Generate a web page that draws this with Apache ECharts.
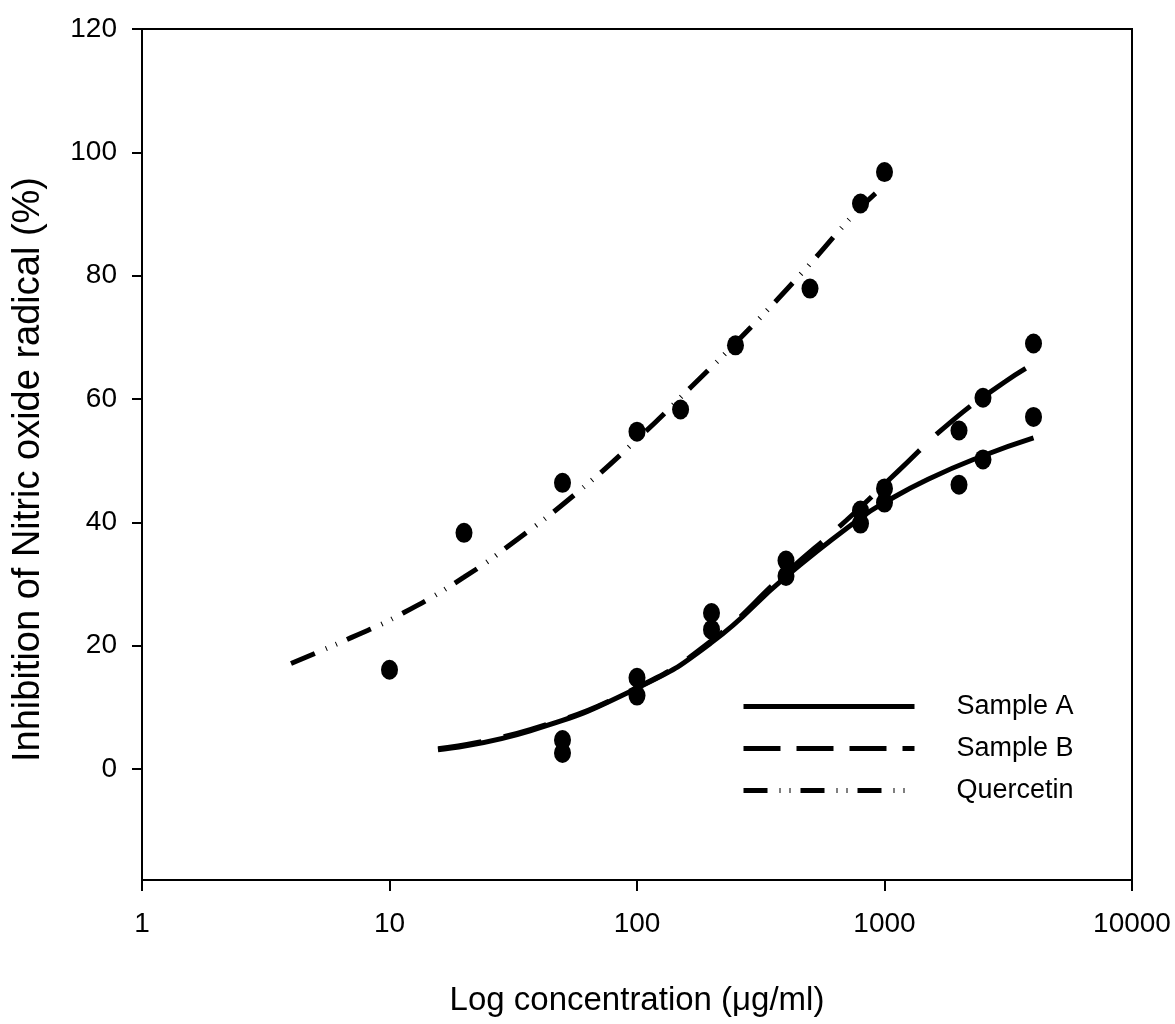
<!DOCTYPE html>
<html>
<head>
<meta charset="utf-8">
<script src="https://cdn.jsdelivr.net/npm/echarts@6/dist/echarts.min.js"></script>
<style>
html,body{margin:0;padding:0;background:#fff;}
#chart{width:1175px;height:1024px;}
</style>
</head>
<body>
<div id="chart"></div>
<script>
// Measured points
const sampleConc = [50, 100, 200, 400, 800, 1000, 2000, 2500, 4000];
const sampleAPoints = [2.6, 11.9, 22.6, 31.3, 39.8, 43.2, 46.1, 50.2, 57.1];
const sampleBPoints = [4.7, 14.8, 25.3, 33.8, 41.9, 45.5, 54.9, 60.2, 69.0];
const quercetinConc = [10, 20, 50, 100, 150, 250, 500, 800, 1000];
const quercetinPoints = [16.1, 38.3, 46.4, 54.7, 58.3, 68.7, 77.9, 91.7, 96.8];

// Fitted curves
const curveAConc = [15.7, 37, 100, 200, 400, 800, 1000, 1500, 2500, 4000];
const curveAVal  = [3.1, 6.2, 13.1, 20.5, 31.2, 40.7, 43.2, 47.0, 50.8, 53.7];
const curveBConc = [15.7, 37, 100, 200, 400, 700, 1135, 1857, 3069, 4000];
const curveBVal  = [3.3, 6.4, 13.2, 20.8, 31.8, 40.3, 48.3, 56.3, 62.8, 65.7];
const curveQConc = [4, 7, 11, 20, 33, 56, 95, 165, 280, 470, 780, 1000];
const curveQVal  = [17.1, 21.3, 25.0, 31.1, 37.3, 44.5, 52.6, 61.9, 71.1, 80.7, 90.6, 94.6];

const yTicks = [0, 20, 40, 60, 80, 100, 120];
const seriesNames = ['Sample A', 'Sample B', 'Quercetin'];
const xTitle = 'Log concentration (\u03bcg/ml)';
const yTitle = 'Inhibition of Nitric oxide radical (%)';

const zip = (xs, ys) => xs.map((x, i) => [x, ys[i]]);
const FONT = "'Liberation Sans', Arial, sans-serif";

const chart = echarts.init(document.getElementById('chart'));
const scatterBase = {
  type: 'scatter', symbol: 'circle', symbolSize: [17, 20],
  itemStyle: { color: '#000', opacity: 1 }, silent: true, z: 3
};
const hiddenSymbol = { color: 'transparent', borderColor: 'transparent', borderWidth: 0, opacity: 0 };
chart.setOption({
  animation: false,
  backgroundColor: '#fff',
  grid: { left: 142, right: 43, top: 29, bottom: 144, show: true, borderColor: '#000', borderWidth: 2, backgroundColor: 'transparent' },
  xAxis: {
    type: 'log', logBase: 10, min: 1, max: 10000,
    name: xTitle, nameLocation: 'middle', nameGap: 104,
    nameTextStyle: { fontFamily: FONT, fontSize: 33, color: '#000' },
    axisLine: { show: true, onZero: false, lineStyle: { color: '#000', width: 2 } },
    axisTick: { show: true, inside: false, length: 11, lineStyle: { color: '#000', width: 2 } },
    minorTick: { show: false },
    splitLine: { show: false },
    axisLabel: { fontFamily: FONT, fontSize: 28, color: '#000', margin: 30,
      formatter: v => String(Math.round(v)) }
  },
  yAxis: {
    type: 'value', min: -18, max: 120,
    name: yTitle, nameLocation: 'middle', nameGap: 94, nameRotate: 90,
    nameTextStyle: { fontFamily: FONT, fontSize: 38, color: '#000', padding: [0, 30, 0, 0] },
    axisLine: { show: true, onZero: false, lineStyle: { color: '#000', width: 2 } },
    axisTick: { show: true, inside: false, length: 10, customValues: yTicks, lineStyle: { color: '#000', width: 2 } },
    splitLine: { show: false },
    axisLabel: { fontFamily: FONT, fontSize: 28, color: '#000', margin: 25, customValues: yTicks }
  },
  legend: {
    orient: 'vertical', left: 741, top: 693, padding: 0,
    itemWidth: 171, itemHeight: 27, itemGap: 15,
    textStyle: { fontFamily: FONT, fontSize: 27, color: '#000', padding: [0, 0, 0, 37] },
    lineStyle: { width: 5 },
    itemStyle: hiddenSymbol,
    data: [
      { name: seriesNames[0], itemStyle: hiddenSymbol, lineStyle: { width: 5, type: 'solid' } },
      { name: seriesNames[1], itemStyle: hiddenSymbol, lineStyle: { width: 5, type: [37, 16] } },
      { name: seriesNames[2], itemStyle: hiddenSymbol, lineStyle: { width: 5, type: [24, 12, 1, 9, 1, 10] } }
    ],
    selectedMode: false
  },
  series: [
    Object.assign({ name: 'A points', data: zip(sampleConc, sampleAPoints) }, scatterBase),
    Object.assign({ name: 'B points', data: zip(sampleConc, sampleBPoints) }, scatterBase),
    Object.assign({ name: 'Q points', data: zip(quercetinConc, quercetinPoints) }, scatterBase),
    { name: seriesNames[0], type: 'line', data: zip(curveAConc, curveAVal), smooth: 0.5,
      symbol: 'none', showSymbol: false, color: '#000',
      lineStyle: { color: '#000', width: 5, type: 'solid' }, z: 4 },
    { name: seriesNames[1], type: 'line', data: zip(curveBConc, curveBVal), smooth: 0.5,
      symbol: 'none', showSymbol: false, color: '#000',
      lineStyle: { color: '#000', width: 5, type: [44, 23] }, z: 4 },
    { name: seriesNames[2], type: 'line', data: zip(curveQConc, curveQVal), smooth: 0.5,
      symbol: 'none', showSymbol: false, color: '#000',
      lineStyle: { color: '#000', width: 5, type: [26, 12, 1, 10, 1, 11] }, z: 4 }
  ]
});
</script>
</body>
</html>
